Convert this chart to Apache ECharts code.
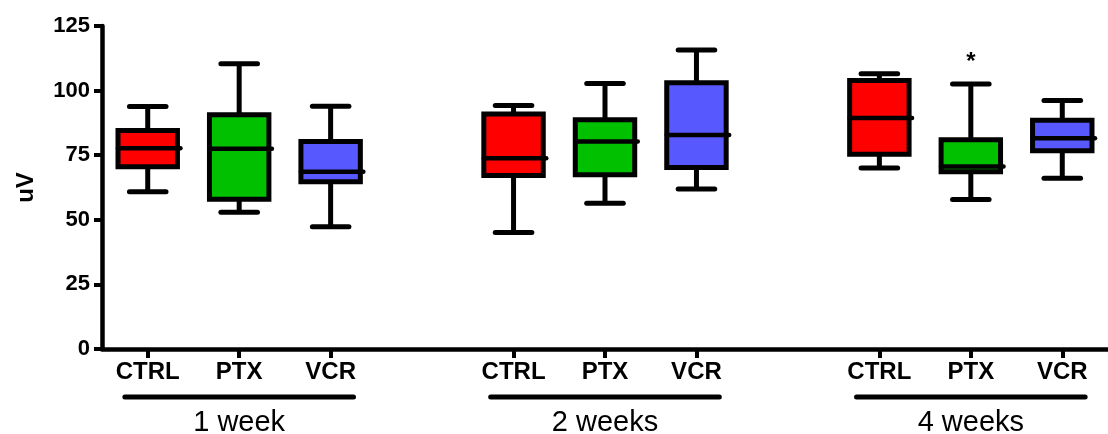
<!DOCTYPE html>
<html>
<head>
<meta charset="utf-8">
<script src="https://cdn.jsdelivr.net/npm/echarts@6/dist/echarts.min.js"></script>
<style>html,body{margin:0;padding:0;background:#fff;}#c{width:1108px;height:434px;}</style>
</head>
<body>
<div id="c"></div>
<script>
// ---- data ----
const treatments = ['CTRL', 'PTX', 'VCR'];
const groups = ['1 week', '2 weeks', '4 weeks'];
const colors = ['#FF0000', '#00C000', '#5858FF'];
// per box, order: 1w CTRL, PTX, VCR, 2w CTRL, PTX, VCR, 4w CTRL, PTX, VCR
const whiskerLow  = [60.9, 52.9, 47.3, 45.1, 56.4, 61.9, 70.0, 57.9, 66.1];
const q1          = [70.5, 58.0, 64.7, 67.1, 67.4, 70.2, 75.4, 68.6, 76.7];
const median      = [77.7, 77.5, 68.6, 73.8, 80.3, 82.8, 89.4, 70.6, 81.6];
const q3          = [84.6, 90.7, 80.3, 90.9, 88.7, 103.0, 103.9, 81.0, 88.5];
const whiskerHigh = [93.8, 110.4, 93.9, 94.2, 102.7, 115.7, 106.5, 102.6, 96.2];
const marks       = ['', '', '', '', '', '', '', '*', ''];
const yTicks = [0, 25, 50, 75, 100, 125];

// ---- build ----
const categories = [];
groups.forEach((g, gi) => {
  treatments.forEach(t => categories.push(t));
  if (gi < groups.length - 1) categories.push('');
});
const boxData = [];
const groupData = [];
groups.forEach((g, gi) => {
  treatments.forEach((t, ti) => {
    const k = gi * treatments.length + ti;
    boxData.push([gi * (treatments.length + 1) + ti, whiskerLow[k], q1[k], median[k], q3[k], whiskerHigh[k], ti, k]);
  });
  groupData.push([gi * (treatments.length + 1) + 1, gi]);
});

const chart = echarts.init(document.getElementById('c'), null, {renderer: 'canvas'});
const FONT = '"Liberation Sans", Arial, sans-serif';

chart.setOption({
  animation: false,
  backgroundColor: '#fff',
  grid: {left: 102, top: 26, bottom: 85, width: 1016, containLabel: false},
  xAxis: {
    type: 'category',
    data: categories,
    boundaryGap: true,
    axisLine: {lineStyle: {color: '#000', width: 4.5}},
    axisTick: {show: true, alignWithLabel: true, length: 9, lineStyle: {color: '#000', width: 4},
      interval: (i, v) => v !== ''},
    axisLabel: {color: '#000', fontFamily: FONT, fontWeight: 'bold', fontSize: 24, margin: 11,
      interval: 0},
    splitLine: {show: false}
  },
  yAxis: {
    type: 'value', min: 0, max: 125, interval: 25,
    name: 'uV', nameLocation: 'middle', nameGap: 64, nameRotate: 90,
    nameTextStyle: {color: '#000', fontFamily: FONT, fontWeight: 'bold', fontSize: 24},
    axisLine: {show: true, lineStyle: {color: '#000', width: 4.5}},
    axisTick: {show: true, length: 8, lineStyle: {color: '#000', width: 4}},
    axisLabel: {color: '#000', fontFamily: FONT, fontWeight: 'bold', fontSize: 22, margin: 12,
      formatter: v => yTicks.includes(v) ? String(v) : ''},
    splitLine: {show: false}
  },
  series: [
    {
      type: 'custom',
      data: boxData,
      clip: false,
      encode: {x: 0, y: [1, 2, 3, 4, 5]},
      renderItem: function (params, api) {
        const x = api.value(0);
        const ti = api.value(6);
        const k = api.value(7);
        const slot = api.size([1, 0])[0];
        const bw = slot * 0.65;
        const cw = slot * 0.40;
        const pLo = api.coord([x, api.value(1)]);
        const pQ1 = api.coord([x, api.value(2)]);
        const pMed = api.coord([x, api.value(3)]);
        const pQ3 = api.coord([x, api.value(4)]);
        const pHi = api.coord([x, api.value(5)]);
        const cx = pMed[0];
        const lw = 5;
        const ls = {stroke: '#000', lineWidth: lw, lineCap: 'butt'};
        const children = [
          {type: 'line', shape: {x1: cx, y1: pHi[1], x2: cx, y2: pQ3[1]}, style: ls},
          {type: 'line', shape: {x1: cx, y1: pQ1[1], x2: cx, y2: pLo[1]}, style: ls},
          {type: 'line', shape: {x1: cx - cw / 2, y1: pHi[1], x2: cx + cw / 2, y2: pHi[1]}, style: {stroke: '#000', lineWidth: lw, lineCap: 'round'}},
          {type: 'line', shape: {x1: cx - cw / 2, y1: pLo[1], x2: cx + cw / 2, y2: pLo[1]}, style: {stroke: '#000', lineWidth: lw, lineCap: 'round'}},
          {type: 'rect', shape: {x: cx - bw / 2, y: pQ3[1], width: bw, height: pQ1[1] - pQ3[1]},
            style: {fill: colors[ti], stroke: '#000', lineWidth: lw}},
          {type: 'line', shape: {x1: cx - bw / 2, y1: pMed[1], x2: cx + bw / 2 + 3, y2: pMed[1]}, style: {stroke: '#000', lineWidth: 4.5, lineCap: 'round'}}
        ];
        if (marks[k]) {
          children.push({type: 'text', x: cx, y: pHi[1] - 22,
            style: {text: marks[k], fill: '#000', font: 'bold 24px ' + FONT, align: 'center', verticalAlign: 'middle'}});
        }
        return {type: 'group', children: children};
      }
    },
    {
      type: 'custom',
      data: groupData,
      clip: false,
      encode: {x: 0},
      silent: true,
      renderItem: function (params, api) {
        const x = api.value(0);
        const gi = api.value(1);
        const base = api.coord([x, 0]);
        const slot = api.size([1, 0])[0];
        const cx = base[0];
        const half = slot * 1.25;
        return {type: 'group', children: [
          {type: 'line', shape: {x1: cx - half, y1: base[1] + 48, x2: cx + half, y2: base[1] + 48},
            style: {stroke: '#000', lineWidth: 5, lineCap: 'round'}},
          {type: 'text', x: cx, y: base[1] + 74,
            style: {text: groups[gi], fill: '#000', font: '29px ' + FONT, align: 'center', verticalAlign: 'middle'}}
        ]};
      }
    }
  ]
});
</script>
</body>
</html>
